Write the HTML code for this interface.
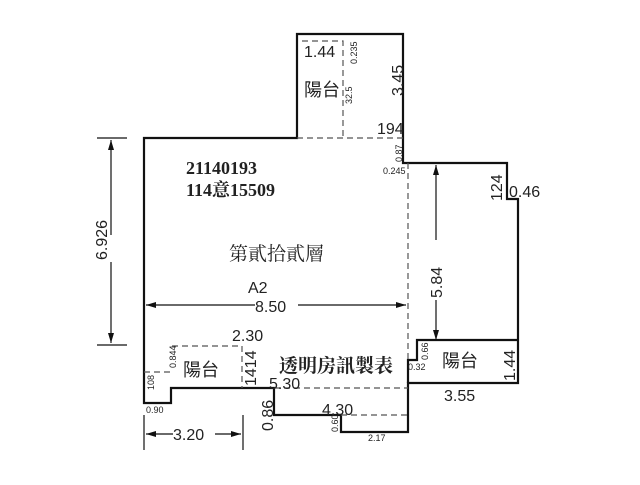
<!DOCTYPE html>
<html><head><meta charset="utf-8"><style>
html,body{margin:0;padding:0;background:#fff;}
svg text{font-family:"Liberation Sans","Noto Sans CJK TC",sans-serif;fill:#222;}
.s{font-family:"Liberation Serif","Noto Serif CJK SC",serif;}
</style></head><body>
<svg width="640" height="480" viewBox="0 0 640 480" xmlns="http://www.w3.org/2000/svg">
<defs>
<marker id="a" viewBox="0 0 10 6" refX="10" refY="3" markerWidth="10" markerHeight="6" orient="auto-start-reverse" markerUnits="userSpaceOnUse"><path d="M0,0 L10,3 L0,6z" fill="#111"/></marker>
</defs>
<g fill="none" stroke="#111" stroke-width="2.2">
<path d="M144,138 H297 V34 H403 V163 H507 V199 H518 V383 H408 V432 H341 V415 H274 V388 H171 V403 H144 Z"/>
<path d="M518,340 H417 V360 H408 V383"/>
</g>
<g fill="none" stroke="#555" stroke-width="1.2" stroke-dasharray="6,4">
<path d="M297,138 H403"/>
<path d="M302,41 H343 V138"/>
<path d="M408,163 V360"/>
<path d="M172,346 H242 V388"/>
<path d="M144,372 H172"/>
<path d="M274,388 H408"/>
<path d="M341,415 H408"/>
</g>
<g stroke="#111" stroke-width="1.2" fill="none">
<path d="M97,138 H127 M97,345 H127"/>
<line x1="111" y1="140" x2="111" y2="235" marker-start="url(#a)"/>
<line x1="111" y1="262" x2="111" y2="343" marker-end="url(#a)"/>
<line x1="146" y1="305" x2="255" y2="305" marker-start="url(#a)"/>
<line x1="298" y1="305" x2="406" y2="305" marker-end="url(#a)"/>
<line x1="436" y1="165" x2="436" y2="240" marker-start="url(#a)"/>
<line x1="436" y1="300" x2="436" y2="340" marker-end="url(#a)"/>
<path d="M144,415 V450 M243,415 V450"/>
<line x1="146" y1="434" x2="173" y2="434" marker-start="url(#a)"/>
<line x1="215" y1="434" x2="241" y2="434" marker-end="url(#a)"/>
</g>
<g font-size="16">
<text x="304" y="57">1.44</text>
<text x="304" y="96" font-size="18">陽台</text>
<text x="377" y="134">194</text>
<text x="232" y="341">2.30</text>
<text x="183" y="376" font-size="18">陽台</text>
<text x="442" y="367" font-size="18">陽台</text>
<text x="269" y="389">5.30</text>
<text x="322" y="415">4.30</text>
<text x="444" y="401">3.55</text>
<text x="509" y="197">0.46</text>
<text x="248" y="293">A2</text>
<text x="255" y="312">8.50</text>
<text x="173" y="440">3.20</text>
</g>
<g font-size="16">
<text transform="translate(403,96) rotate(-90)">3.45</text>
<text transform="translate(107,260) rotate(-90)">6.926</text>
<text transform="translate(442,298) rotate(-90)">5.84</text>
<text transform="translate(502,201) rotate(-90)">124</text>
<text transform="translate(515,381) rotate(-90)">1.44</text>
<text transform="translate(256,386) rotate(-90)">1414</text>
<text transform="translate(273,431) rotate(-90)">0.86</text>
</g>
<g font-size="9">
<text transform="translate(357,64) rotate(-90)">0.235</text>
<text transform="translate(352,104) rotate(-90)">32.5</text>
<text transform="translate(402,162) rotate(-90)">0.87</text>
<text x="383" y="174">0.245</text>
<text transform="translate(176,368) rotate(-90)">0.844</text>
<text transform="translate(154,390) rotate(-90)">108</text>
<text x="146" y="413">0.90</text>
<text transform="translate(338,432) rotate(-90)">0.60</text>
<text x="368" y="441">2.17</text>
<text x="408" y="370">0.32</text>
<text transform="translate(428,360) rotate(-90)">0.66</text>
</g>
<text class="s" x="186" y="174" font-size="18" font-weight="bold">21140193</text>
<text class="s" x="186" y="196" font-size="18" font-weight="bold">114意15509</text>
<text class="s" x="229" y="260" font-size="19">第貳拾貳層</text>
<text class="s" x="279" y="372" font-size="19" font-weight="bold">透明房訊製表</text>
</svg>
</body></html>
